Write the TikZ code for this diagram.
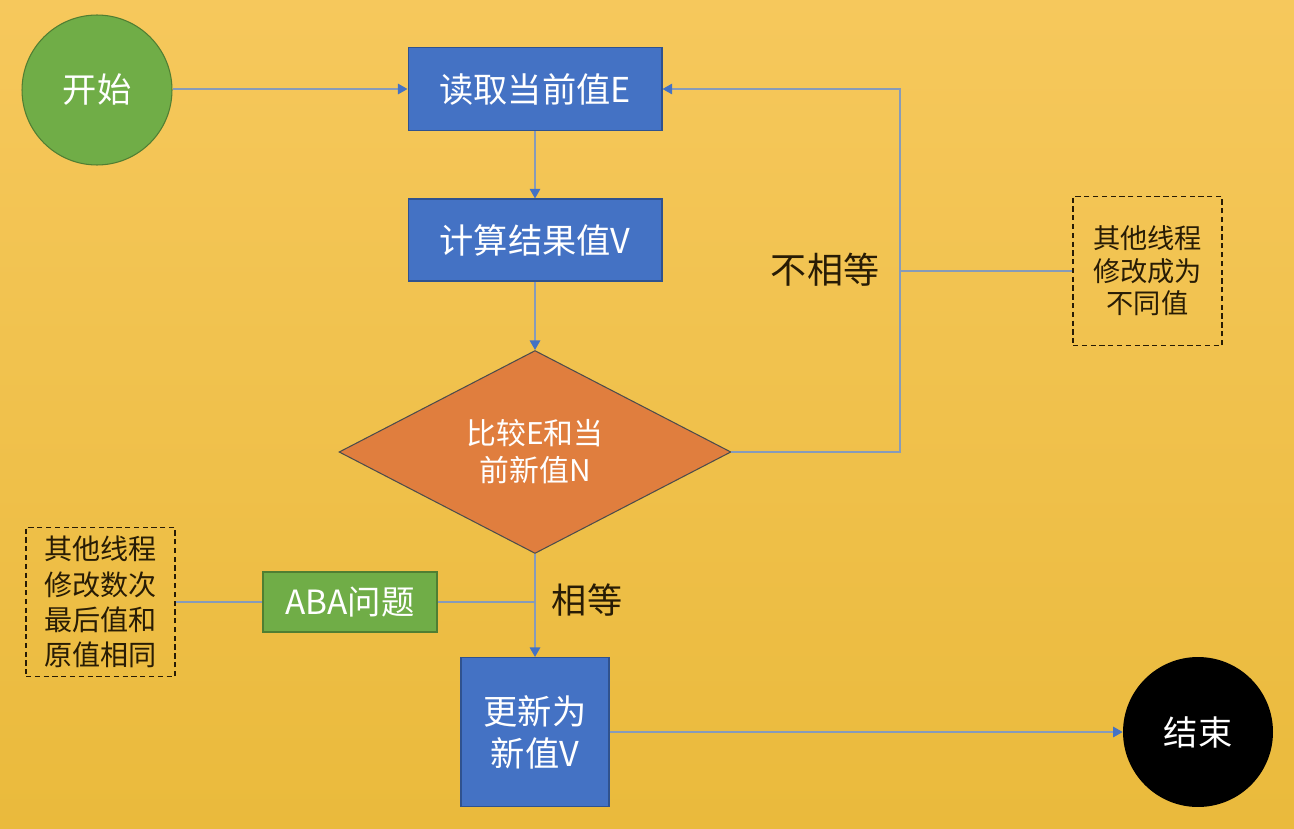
\documentclass[tikz,border=0pt]{standalone}
\usepackage{fontspec}
\setmainfont{Noto Sans CJK SC}
\usetikzlibrary{shapes.geometric,arrows.meta}
\definecolor{bgtop}{RGB}{246,200,92}
\definecolor{bgbot}{RGB}{234,186,60}
\definecolor{boxblue}{RGB}{68,114,196}
\definecolor{boxblueb}{RGB}{47,82,143}
\definecolor{boxgreen}{RGB}{112,173,71}
\definecolor{boxgreenb}{RGB}{80,126,50}
\definecolor{diaorange}{RGB}{224,126,62}
\definecolor{connc}{RGB}{135,155,185}
\definecolor{tipc}{RGB}{68,114,196}
\definecolor{darktext}{RGB}{40,28,5}
\tikzset{
  procbox/.style={draw=boxblueb,line width=0.6pt,fill=boxblue,text=white,align=center,inner sep=0pt,font=\fontsize{19.5}{24}\selectfont},
  termcircle/.style={circle,inner sep=0pt,minimum size=3cm,text=white,font=\fontsize{19.5}{24}\selectfont},
  decide/.style={diamond,draw=black!70,line width=0.6pt,fill=diaorange,text=white,align=center,inner sep=0pt,minimum width=7.84cm,minimum height=4.06cm,font=\fontsize{17}{21}\selectfont},
  notebox/.style={draw=darktext,dashed,dash pattern=on 3pt off 2pt,line width=0.8pt,align=center,text=darktext,inner sep=0pt,minimum width=2.98cm,minimum height=2.98cm},
  conn/.style={draw=connc,line width=0.9pt},
  arr/.style={conn,-{Triangle[width=6pt,length=5.5pt,color=tipc]}},
  labeltxt/.style={text=darktext,font=\fontsize{20.5}{24}\selectfont}
}
\begin{document}
\begin{tikzpicture}[x=0.02cm,y=-0.02cm]
\shade[top color=bgtop,bottom color=bgbot] (0,0) rectangle (1294,828);
\useasboundingbox (0,0) rectangle (1294,828);
% nodes
\node[termcircle,fill=boxgreen,draw=boxgreenb,line width=0.6pt] (start) at (97,90) {开始};
\node[procbox,minimum width=5.08cm,minimum height=1.66cm] (box1) at (535,89) {读取当前值E};
\node[procbox,minimum width=5.08cm,minimum height=1.64cm] (box2) at (535,240) {计算结果值V};
\node[decide] (dia) at (535,452) {比较E和当\\前新值N};
\node[procbox,minimum width=2.96cm,minimum height=2.98cm] (update) at (535,732) {更新为\\新值V};
\node[termcircle,fill=black] (end) at (1198,732) {结束};
\node[draw=boxgreenb,line width=0.6pt,fill=boxgreen,text=white,inner sep=0pt,minimum width=3.48cm,minimum height=1.2cm,font=\fontsize{19}{24}\selectfont] (aba) at (350,602) {ABA问题};
\node[notebox,font=\fontsize{15.5}{18.5}\selectfont] (note1) at (1147.5,271) {其他线程\\修改成为\\不同值};
\node[notebox,font=\fontsize{16}{20}\selectfont] (note2) at (100.5,602) {其他线程\\修改数次\\最后值和\\原值相同};
\node[labeltxt] (neq) at (825,270) {不相等};
\node[labeltxt,font=\fontsize{20}{24}\selectfont] (eq) at (587,600) {相等};
\coordinate (loop) at (900,89);
\coordinate (j1) at (900,271);
\coordinate (j2) at (535,602);
% connectors
\draw[arr] (start.east |- box1.west) -- (box1.west);
\draw[arr] (box1) -- (box2);
\draw[arr] (box2) -- (dia);
\draw[arr] (dia.east) -| (loop) -- (box1.east);
\draw[conn] (j1) -- (note1.west);
\draw[arr] (dia.south) -- (update.north);
\draw[conn] (note2.east) -- (aba.west);
\draw[conn] (aba.east) -- (j2);
\draw[arr] (update.east) -- (end.west);
\end{tikzpicture}
\end{document}
